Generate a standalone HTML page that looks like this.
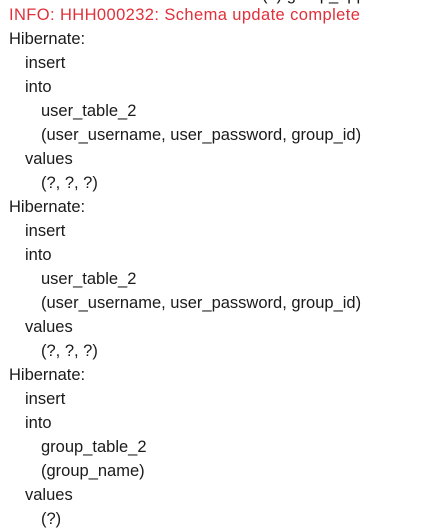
<!DOCTYPE html>
<html><head><meta charset="utf-8"><style>
html,body{margin:0;padding:0;background:#fff;width:439px;height:530px;overflow:hidden;position:relative}
.l{position:absolute;font-family:"Liberation Sans","DejaVu Sans",sans-serif;font-size:16.5px;line-height:24px;color:#1a1a1a;white-space:pre}
</style></head><body>
<div class="l" style="left:262px;top:-17px">(?) group_app</div>
<div class="l" style="left:9px;top:3px;color:#e0303a;letter-spacing:0.4px">INFO: HHH000232: Schema update complete</div>
<div class="l" style="left:9px;top:27px">Hibernate:</div>
<div class="l" style="left:25px;top:51px">insert</div>
<div class="l" style="left:25px;top:75px">into</div>
<div class="l" style="left:41px;top:99px">user_table_2</div>
<div class="l" style="left:41px;top:123px">(user_username, user_password, group_id)</div>
<div class="l" style="left:25px;top:147px">values</div>
<div class="l" style="left:41px;top:171px">(?, ?, ?)</div>
<div class="l" style="left:9px;top:195px">Hibernate:</div>
<div class="l" style="left:25px;top:219px">insert</div>
<div class="l" style="left:25px;top:243px">into</div>
<div class="l" style="left:41px;top:267px">user_table_2</div>
<div class="l" style="left:41px;top:291px">(user_username, user_password, group_id)</div>
<div class="l" style="left:25px;top:315px">values</div>
<div class="l" style="left:41px;top:339px">(?, ?, ?)</div>
<div class="l" style="left:9px;top:363px">Hibernate:</div>
<div class="l" style="left:25px;top:387px">insert</div>
<div class="l" style="left:25px;top:411px">into</div>
<div class="l" style="left:41px;top:435px">group_table_2</div>
<div class="l" style="left:41px;top:459px">(group_name)</div>
<div class="l" style="left:25px;top:483px">values</div>
<div class="l" style="left:41px;top:507px">(?)</div>
</body></html>
